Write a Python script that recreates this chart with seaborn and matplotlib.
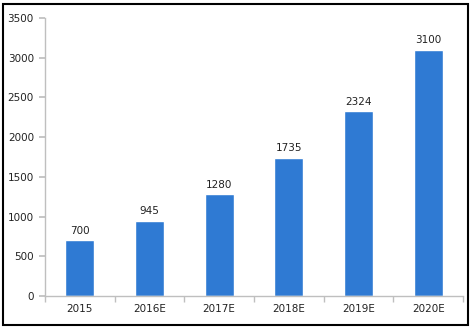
import matplotlib
matplotlib.use("Agg")
import matplotlib.pyplot as plt
import seaborn as sns
import pandas as pd
from matplotlib.patches import Rectangle

categories = ["2015", "2016E", "2017E", "2018E", "2019E", "2020E"]
values = [700, 945, 1280, 1735, 2324, 3100]

sns.set_theme(style="white")
plt.rcParams["font.family"] = ["DejaVu Sans"]

df = pd.DataFrame({"year": categories, "value": values})

fig = plt.figure(figsize=(4.72, 3.29), dpi=100)
ax = fig.add_axes([45 / 472, 33 / 329, 418 / 472, 278 / 329])

sns.barplot(data=df, x="year", y="value", color="#2f7ad3", width=0.42,
            saturation=1, ax=ax)

for i, v in enumerate(values):
    ax.text(i, v + 60, f"{v}", ha="center", va="bottom", fontsize=7.5, color="#222222")

ax.set_ylim(0, 3500)
ax.set_yticks(range(0, 3501, 500))
ax.set_xlim(-0.5, len(categories) - 0.5)
ax.set_xlabel("")
ax.set_ylabel("")

for side in ["top", "right"]:
    ax.spines[side].set_visible(False)
for side in ["left", "bottom"]:
    ax.spines[side].set_color("#bfbfbf")
    ax.spines[side].set_linewidth(1.0)

ax.tick_params(axis="y", which="both", left=True, length=4, color="#bfbfbf",
               labelsize=7.5, labelcolor="#222222", pad=4)
ax.tick_params(axis="x", which="major", bottom=True, length=0, labelsize=7.5,
               labelcolor="#222222", pad=6)
ax.set_xticks([i + 0.5 for i in range(-1, len(categories))], minor=True)
ax.tick_params(axis="x", which="minor", bottom=True, length=4, color="#bfbfbf")

fig.add_artist(Rectangle((3 / 472, 4 / 329), 465 / 472, 321 / 329,
                         transform=fig.transFigure, fill=False,
                         edgecolor="black", linewidth=1.5))

fig.savefig("out.png", dpi=100)
